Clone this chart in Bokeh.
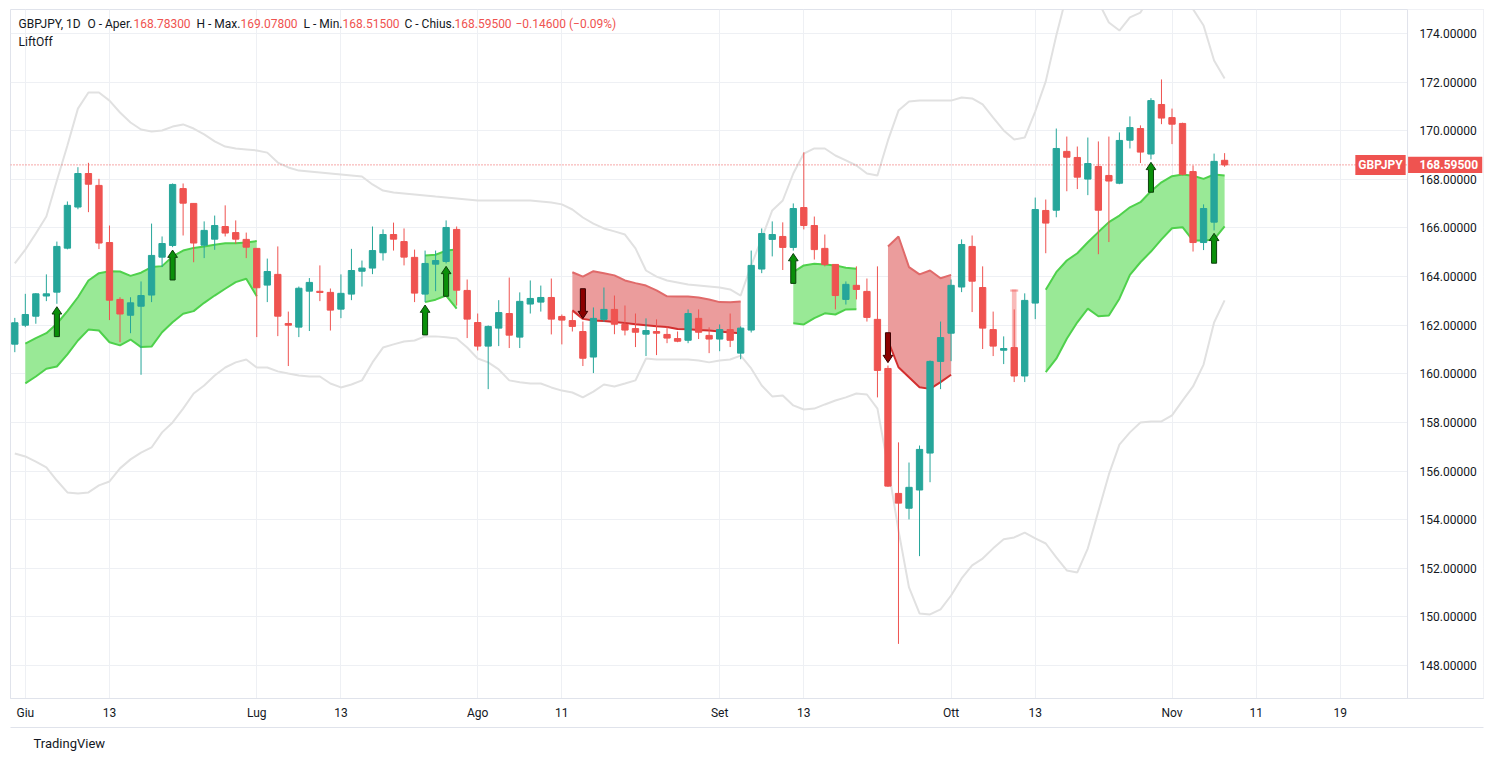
from bokeh.plotting import figure
from bokeh.models import (FixedTicker, Range1d, Span, Label, Title, LinearAxis)
from bokeh.core.properties import value
from bokeh.embed import file_html
from bokeh.resources import INLINE

# ---------------- data ----------------
opens = [161.22, 162.00, 162.37, 163.20, 163.36, 165.17, 166.86, 168.24, 167.75, 165.40,
         163.06, 162.41, 162.78, 163.24, 164.80, 165.28, 167.62, 167.01, 165.29, 165.54,
         166.06, 165.81, 165.53, 165.16, 163.65, 164.09, 162.07, 161.92, 163.40, 163.39,
         163.35, 162.66, 163.28, 164.22, 164.35, 164.98, 165.73, 165.44, 164.79, 163.28,
         164.51, 164.62, 165.94, 163.43, 162.11, 161.14, 161.88, 162.48, 161.51, 162.87,
         162.95, 163.14, 162.36, 162.19, 161.74, 160.69, 162.24, 162.65, 162.03, 161.86,
         161.63, 161.74, 161.62, 161.45, 161.38, 162.28, 161.58, 161.43, 161.82, 160.85,
         161.80, 164.31, 165.53, 165.65, 165.20, 166.84, 166.10, 165.16, 164.50, 163.06,
         163.64, 163.39, 162.24, 160.22, 155.08, 154.47, 155.22, 156.74, 160.51, 161.67,
         163.57, 165.24, 163.55, 161.82, 160.97, 161.08, 159.91, 162.91, 166.72, 166.73,
         169.15, 168.90, 168.01, 168.53, 168.16, 167.84, 169.61, 170.09, 169.04, 171.08,
         170.54, 170.30, 168.32, 165.40, 166.24, 168.783]
highs = [162.30, 163.29, 163.32, 164.09, 165.44, 167.09, 168.50, 168.68, 168.02, 166.10,
         163.15, 163.15, 163.80, 166.18, 165.65, 167.83, 167.83, 167.01, 166.27, 166.51,
         166.93, 166.31, 165.81, 165.16, 164.74, 165.24, 162.56, 163.59, 163.94, 164.46,
         163.51, 164.09, 165.14, 164.66, 166.06, 165.94, 166.22, 165.98, 165.11, 165.07,
         165.07, 166.31, 166.06, 163.88, 162.48, 161.99, 163.03, 163.96, 163.35, 163.84,
         163.63, 163.92, 162.44, 162.56, 162.15, 162.73, 163.55, 163.22, 162.81, 162.48,
         162.28, 162.24, 161.95, 161.74, 162.65, 162.65, 161.91, 162.03, 162.48, 161.95,
         165.07, 165.98, 166.27, 166.23, 167.01, 169.11, 166.47, 165.73, 164.50, 163.80,
         164.42, 163.92, 164.42, 160.34, 157.18, 156.35, 157.05, 160.55, 162.15, 163.88,
         165.53, 165.69, 164.42, 162.56, 161.54, 162.65, 163.31, 167.25, 167.17, 170.09,
         169.76, 169.35, 169.72, 169.56, 169.76, 169.93, 170.59, 170.22, 171.34, 172.11,
         170.91, 170.33, 168.57, 166.97, 169.06, 169.078]
lows = [160.89, 161.92, 162.06, 162.99, 162.88, 165.12, 166.77, 166.65, 165.13, 162.21,
        161.30, 161.67, 159.96, 162.95, 164.39, 165.21, 165.69, 164.59, 164.76, 165.10,
        165.65, 165.35, 164.76, 161.51, 162.95, 161.55, 160.32, 161.51, 161.76, 162.99,
        161.78, 162.29, 163.03, 163.59, 164.10, 164.66, 165.07, 164.46, 162.95, 162.95,
        163.40, 164.54, 162.81, 161.47, 160.96, 159.37, 161.14, 161.06, 161.06, 162.48,
        162.56, 161.62, 161.21, 161.74, 160.32, 160.03, 162.13, 161.63, 161.58, 161.10,
        160.73, 160.77, 161.26, 161.30, 161.26, 161.43, 160.85, 160.93, 161.10, 160.60,
        161.70, 164.14, 164.83, 164.27, 165.07, 165.94, 164.70, 164.42, 162.65, 162.85,
        163.06, 162.15, 159.03, 155.35, 148.89, 154.01, 152.50, 155.54, 159.37, 160.52,
        163.36, 162.54, 161.02, 160.73, 160.40, 159.66, 159.66, 162.25, 164.96, 166.44,
        167.51, 167.60, 167.35, 164.92, 165.42, 167.80, 169.27, 168.67, 168.82, 170.27,
        169.45, 168.16, 165.03, 165.09, 165.90, 168.515]
closes = [162.10, 162.44, 163.29, 163.29, 165.24, 166.93, 168.24, 167.80, 165.38, 163.03,
          162.46, 162.92, 163.22, 164.87, 165.36, 167.79, 167.02, 165.38, 165.90, 166.10,
          165.79, 165.54, 165.21, 163.54, 164.21, 162.37, 162.00, 163.52, 163.76, 163.35,
          162.62, 163.31, 164.25, 164.35, 165.07, 165.73, 165.54, 164.80, 163.32, 164.54,
          164.66, 166.02, 163.44, 162.25, 161.14, 161.95, 162.52, 161.59, 162.98, 163.10,
          163.14, 162.25, 162.21, 161.95, 160.64, 162.28, 162.65, 162.04, 161.80, 161.71,
          161.78, 161.67, 161.47, 161.34, 162.48, 161.71, 161.43, 161.82, 161.38, 161.88,
          164.46, 165.77, 165.73, 165.20, 166.80, 166.10, 165.11, 164.50, 163.22, 163.68,
          163.47, 162.32, 160.14, 155.38, 154.68, 155.33, 156.89, 160.51, 161.49, 163.64,
          165.32, 163.81, 161.88, 161.14, 161.04, 159.91, 163.02, 166.76, 166.20, 169.27,
          168.91, 168.09, 168.65, 166.73, 167.93, 169.60, 170.13, 169.12, 171.24, 170.52,
          170.27, 168.21, 165.40, 166.80, 168.74, 168.595]

bb_upper = [164.54, 165.11, 165.77, 166.47, 167.95, 169.39, 170.91, 171.57, 171.57, 171.24,
            170.75, 170.34, 170.05, 169.97, 170.01, 170.17, 170.26, 170.09, 169.85, 169.56,
            169.35, 169.27, 169.23, 169.19, 169.10, 168.69, 168.49, 168.36, 168.32, 168.28,
            168.24, 168.20, 168.16, 168.12, 167.79, 167.54, 167.46, 167.42, 167.38, 167.34,
            167.29, 167.25, 167.21, 167.17, 167.13, 167.13, 167.13, 167.13, 167.13, 167.13,
            167.09, 167.05, 166.97, 166.76, 166.43, 166.18, 165.98, 165.86, 165.73, 165.16,
            164.25, 164.00, 163.84, 163.76, 163.67, 163.63, 163.59, 163.55, 163.47, 163.22,
            164.46, 165.57, 166.72, 167.13, 168.24, 169.06, 169.27, 169.27, 168.98, 168.78,
            168.57, 168.24, 168.16, 169.60, 170.83, 171.20, 171.24, 171.24, 171.24, 171.24,
            171.37, 171.33, 171.08, 170.54, 170.01, 169.64, 169.72, 170.79, 172.03, 173.92,
            175.60, 176.20, 176.00, 175.30, 174.45, 174.12, 174.66, 174.86, 175.60, 176.00,
            176.00, 175.60, 175.00, 174.33, 172.89, 172.15]
bb_lower = [156.72, 156.60, 156.39, 156.15, 155.61, 155.12, 155.08, 155.12, 155.41, 155.57,
            156.11, 156.48, 156.76, 156.97, 157.59, 158.00, 158.57, 159.19, 159.52, 159.93,
            160.26, 160.47, 160.59, 160.26, 160.26, 160.10, 160.01, 159.93, 159.89, 159.89,
            159.60, 159.44, 159.56, 159.73, 160.47, 161.08, 161.21, 161.33, 161.37, 161.54,
            161.54, 161.50, 161.45, 161.08, 160.63, 160.47, 160.18, 159.73, 159.65, 159.60,
            159.60, 159.44, 159.31, 159.23, 159.03, 159.27, 159.56, 159.48, 159.60, 159.73,
            160.63, 160.59, 160.59, 160.59, 160.59, 160.55, 160.47, 160.55, 160.59, 160.75,
            160.22, 159.52, 159.07, 159.11, 158.70, 158.53, 158.57, 158.74, 158.90, 159.03,
            159.19, 159.15, 158.57, 156.19, 153.56, 151.21, 150.14, 150.10, 150.31, 150.88,
            151.58, 152.12, 152.40, 152.82, 153.19, 153.27, 153.47, 153.23, 153.02, 152.45,
            151.91, 151.83, 152.82, 154.34, 155.86, 157.09, 157.59, 158.00, 158.04, 158.04,
            158.29, 158.90, 159.48, 160.38, 162.11, 163.02]

# LiftOff clouds: first bar index, upper line, lower line
green1_start = 1
green1_top = [161.24, 161.47, 161.67, 162.06, 162.58, 163.15, 163.84, 164.14, 164.22, 164.21,
              164.03, 164.16, 164.39, 164.43, 164.83, 165.07, 165.18, 165.24, 165.31, 165.37,
              165.37, 165.40, 165.46]
green1_bot = [159.61, 159.89, 160.21, 160.30, 160.80, 161.37, 161.82, 161.78, 161.30, 161.17,
              161.41, 161.10, 161.12, 161.71, 162.12, 162.47, 162.58, 162.92, 163.22, 163.50,
              163.77, 163.91, 163.19]
green2_start = 39
green2_top = [164.87, 164.90, 165.07, 165.11]
green2_bot = [162.95, 163.05, 163.22, 162.68]
red1_start = 53
red1_top = [164.18, 164.00, 164.22, 164.14, 164.05, 163.84, 163.73, 163.63, 163.43, 163.19,
            163.18, 163.18, 163.14, 163.06, 162.95, 162.94, 162.97]
red1_bot = [162.61, 162.26, 162.19, 162.17, 162.13, 162.09, 162.04, 162.00, 161.96, 161.93,
            161.84, 161.83, 161.80, 161.78, 161.74, 161.70, 161.67]
green3_start = 74
green3_top = [164.18, 164.46, 164.53, 164.50, 164.46, 164.36, 164.32]
green3_bot = [162.08, 162.03, 162.29, 162.49, 162.44, 162.65, 162.66]
red2_start = 83
red2_top = [165.24, 165.65, 164.39, 164.09, 164.25, 163.93, 164.07]
red2_bot = [161.37, 160.27, 159.86, 159.45, 159.38, 159.66, 159.96]
green4_start = 98
green4_top = [163.46, 164.18, 164.66, 164.96, 165.41, 165.83, 166.24, 166.51, 166.85, 167.06,
              167.51, 167.88, 168.13, 168.20, 168.15, 168.02, 168.20, 168.16]
green4_bot = [160.07, 160.62, 161.44, 162.12, 162.68, 162.37, 162.40, 163.09, 164.07, 164.59,
              165.03, 165.53, 165.99, 166.03, 165.48, 165.48, 165.53, 166.07]

buy_signals = [4, 15, 39, 41, 74, 108, 114]
sell_signals = [54, 83]
faded_signal_bar = 95
faded_signal_top = 163.47
faded_signal_bottom = 160.69

time_tick_pos = [1, 9, 23, 31, 44, 52, 67, 75, 89, 97, 110, 118, 126]
time_tick_labels = ["Giu", "13", "Lug", "13", "Ago", "11", "Set", "13", "Ott", "13", "Nov", "11", "19"]
price_ticks = [148, 150, 152, 154, 156, 158, 160, 162, 164, 166, 168, 170, 172, 174]

header_parts = [("GBPJPY, 1D", "#131722", 8), ("O - Aper.", "#131722", 77),
                ("168.78300", "#ef5350", 123), ("H - Max.", "#131722", 186),
                ("169.07800", "#ef5350", 230), ("L - Min.", "#131722", 293),
                ("168.51500", "#ef5350", 332), ("C - Chius.", "#131722", 394),
                ("168.59500", "#ef5350", 444), ("\u22120.14600 (\u22120.09%)", "#ef5350", 505)]

# ---------------- styling ----------------
UP = "#26a69a"
DN = "#ef5350"
FONT = "Roboto"
GRID = "#eef0f4"
BORDER = "#e0e3eb"
TEXT = "#131722"

PLOT_END = 132.39      # bar coordinate of the price-scale separator
X_END = 139.61         # bar coordinate of the right border
Y_LO, Y_HI = 146.643, 174.987

n = len(opens)
idx = list(range(n))

p = figure(width=1484, height=760,
           x_range=Range1d(-0.409, X_END), y_range=Range1d(Y_LO, Y_HI),
           y_axis_location=None, toolbar_location=None, output_backend="svg",
           title=None, min_border_left=10, min_border_right=1,
           min_border_top=9, min_border_bottom=62)
p.background_fill_color = "white"
p.border_fill_color = "white"
p.outline_line_color = BORDER

# time axis
xax = p.xaxis[0]
xax.ticker = FixedTicker(ticks=time_tick_pos)
xax.major_label_overrides = {k: v for k, v in zip(time_tick_pos, time_tick_labels)}
xax.axis_line_color = BORDER
xax.major_tick_line_color = None
xax.minor_tick_line_color = None
xax.major_tick_out = 0
xax.major_tick_in = 0
xax.major_label_standoff = 7
xax.major_label_text_font = FONT
xax.major_label_text_font_size = "12px"
xax.major_label_text_color = TEXT
xax.axis_label = " "
xax.axis_label_text_font_size = "1px"
xax.axis_label_standoff = 1

# bottom border line of the time-scale row
xb = LinearAxis(ticker=FixedTicker(ticks=[]), axis_line_color=BORDER,
                major_tick_line_color=None, minor_tick_line_color=None,
                major_label_text_font_size="0px")
p.add_layout(xb, "below")

p.xgrid.grid_line_color = GRID
p.ygrid.ticker = FixedTicker(ticks=price_ticks)
p.ygrid.grid_line_color = GRID

# Bollinger-like envelope
p.line(idx, bb_upper, line_color="#e1e1e1", line_width=2)
p.line(idx, bb_lower, line_color="#e1e1e1", line_width=2)

# LiftOff clouds
def cloud(start, top, bot, fill, top_col, bot_col):
    xs = list(range(start, start + len(top)))
    p.varea(x=xs, y1=bot, y2=top, fill_color=fill, fill_alpha=1.0)
    p.line(xs, top, line_color=top_col, line_width=2)
    p.line(xs, bot, line_color=bot_col, line_width=2)

G_FILL, G_LINE = "#99e996", "#4fd14c"
R_FILL, R_TOP, R_BOT = "#eb9c9c", "#e06a6a", "#d32f2f"
cloud(green1_start, green1_top, green1_bot, G_FILL, G_LINE, G_LINE)
cloud(green2_start, green2_top, green2_bot, G_FILL, G_LINE, G_LINE)
cloud(red1_start, red1_top, red1_bot, R_FILL, R_TOP, R_BOT)
cloud(green3_start, green3_top, green3_bot, G_FILL, G_LINE, G_LINE)
cloud(red2_start, red2_top, red2_bot, R_FILL, R_TOP, R_BOT)
cloud(green4_start, green4_top, green4_bot, G_FILL, G_LINE, G_LINE)

# faded (cancelled) signal mark
p.quad(left=faded_signal_bar - 0.22, right=faded_signal_bar + 0.22,
       top=faded_signal_top, bottom=faded_signal_bottom,
       fill_color=DN, fill_alpha=0.4, line_color=None)
p.quad(left=faded_signal_bar - 0.38, right=faded_signal_bar + 0.38,
       top=faded_signal_top, bottom=faded_signal_top - 0.09,
       fill_color=DN, fill_alpha=0.45, line_color=None)

# last price dotted line
last = closes[-1]
p.line([-0.409, PLOT_END], [last, last], line_color=DN, line_dash="1 2", line_width=1)

# candles
colors = [UP if c >= o else DN for o, c in zip(opens, closes)]
body_top, body_bot = [], []
for o, c in zip(opens, closes):
    t, b = max(o, c), min(o, c)
    if t - b < 0.05:
        m = (t + b) / 2
        t, b = m + 0.025, m - 0.025
    body_top.append(t)
    body_bot.append(b)
p.segment(x0=idx, y0=lows, x1=idx, y1=highs, line_color=colors, line_width=1)
p.vbar(x=idx, width=0.6, top=body_top, bottom=body_bot,
       fill_color=colors, line_color=colors, line_width=1)

# signal arrows
GAP, LEN, HEAD, HW, SW = 0.12, 1.23, 0.30, 0.46, 0.24
up_xs, up_ys, dn_xs, dn_ys = [], [], [], []
for i in buy_signals:
    tip = lows[i] - GAP
    head = tip - HEAD
    base = tip - LEN
    up_xs.append([i, i + HW, i + SW, i + SW, i - SW, i - SW, i - HW])
    up_ys.append([tip, head, head, base, base, head, head])
for i in sell_signals:
    tip = highs[i] + GAP
    head = tip + HEAD
    top = tip + LEN
    dn_xs.append([i, i + HW, i + SW, i + SW, i - SW, i - SW, i - HW])
    dn_ys.append([tip, head, head, top, top, head, head])
p.patches(up_xs, up_ys, fill_color="#0a8f0a", line_color="#0d3f0d", line_width=1)
p.patches(dn_xs, dn_ys, fill_color="#8b0000", line_color="#3b0000", line_width=1)

# price scale column (right)
p.quad(left=PLOT_END, right=X_END + 1, bottom=Y_LO - 1, top=Y_HI + 1,
       fill_color="white", line_color=None)
p.add_layout(Span(location=PLOT_END, dimension="height", line_color=BORDER, line_width=1))
LABEL_X = PLOT_END + 1.14
p.text(x=[LABEL_X] * len(price_ticks), y=price_ticks,
       text=[f"{v:.5f}" for v in price_ticks],
       text_font=value(FONT), text_font_size=value("12px"), text_color=TEXT,
       text_align="left", text_baseline="middle")
p.quad(left=PLOT_END + 0.05, right=X_END - 0.12, bottom=last - 0.33, top=last + 0.33,
       fill_color=DN, line_color=None)
p.text(x=[LABEL_X], y=[last], text=[f"{last:.5f}"],
       text_font=value(FONT), text_font_size=value("12px"), text_color="white",
       text_font_style="bold", text_align="left", text_baseline="middle")

# symbol tag at end of the price line
p.add_layout(Label(x=1370, y=last, x_units="screen", y_units="data", text="GBPJPY",
                   text_font=FONT, text_font_size="12px", text_color="white",
                   text_font_style="bold", text_align="center", text_baseline="middle",
                   background_fill_color=DN, padding=3))

# header legend
for txt, col, xpos in header_parts:
    p.add_layout(Label(x=xpos, y=675, x_units="screen", y_units="screen", text=txt,
                       text_font=FONT, text_font_size="12px", text_color=col,
                       text_baseline="middle"))
p.add_layout(Label(x=8, y=657, x_units="screen", y_units="screen", text="LiftOff",
                   text_font=FONT, text_font_size="12px", text_color=TEXT,
                   text_baseline="middle"))

# footer
p.add_layout(Title(text="TradingView", align="left", offset=23, standoff=12,
                   text_font=FONT, text_font_size="13px", text_font_style="normal",
                   text_color=TEXT), "below")

open("out.html", "w").write(file_html(p, INLINE))
